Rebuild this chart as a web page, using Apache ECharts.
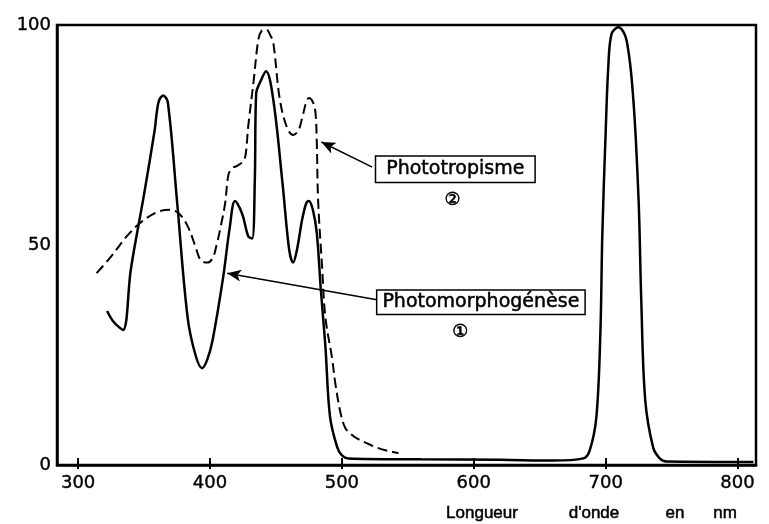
<!DOCTYPE html>
<html><head><meta charset="utf-8">
<script src="https://cdn.jsdelivr.net/npm/echarts@6/dist/echarts.min.js"></script>
<style>html,body{margin:0;padding:0;background:#fff}#c{width:769px;height:524px}</style>
</head><body><div id="c"></div>
<script>
const xTicks = [300, 400, 500, 600, 700, 800];

// Courbe 1 : Photomorphogénèse (trait plein)
const photomorphoNm = [322, 327, 334, 340, 350, 358, 361, 364.5, 368, 375, 383, 389, 394, 398, 402, 410, 415, 419, 424.5, 429, 432, 434, 435, 438, 442.5, 448, 455, 460, 463, 466, 470, 473, 475, 478, 481, 484, 487.5, 491, 496.5, 500, 505, 560, 620, 660, 683, 688, 693, 696, 697.5, 700, 702, 704.5, 709.7, 715.8, 721, 725, 727, 730, 736, 741, 746, 812];
const photomorphoVal = [35, 32.5, 30.7, 44.5, 61.5, 76, 82.5, 84, 82.5, 60, 33.6, 25, 22, 24, 28.4, 42.7, 54, 60, 57, 52, 51.5, 65, 84.5, 87, 89.5, 83, 64, 49, 46, 49, 56, 59.5, 60, 58, 52.7, 40, 27, 11, 4, 2.2, 1.5, 1.3, 1.2, 1.0, 1.5, 3.4, 11, 30, 52.7, 75.5, 90.5, 98, 99.5, 96.6, 83, 60, 37.5, 14.8, 4, 1.5, 0.8, 0.7];

// Courbe 2 : Phototropisme (tirets)
const phototropNm = [314, 324, 337, 347, 360, 370, 377, 383.5, 389, 393, 398, 402, 405, 408, 411.5, 414, 417, 420.6, 425, 427, 429, 433, 436.6, 439, 442.6, 446, 448, 453, 458.5, 463, 467, 470, 473, 475, 478, 480, 481, 482, 485, 487.5, 492.7, 495, 499, 502.6, 507, 511.7, 520, 527, 535, 543];
const phototropVal = [43.6, 47, 52, 55, 57.5, 58, 57, 54, 49.6, 46.5, 46, 47, 50, 54, 59.5, 66, 67.5, 68, 69, 70.5, 77, 87, 96.6, 98.6, 99, 97.5, 96, 83, 76.6, 75, 76, 79, 82.5, 83.4, 82.5, 80, 73, 60, 45, 33.6, 24, 18.6, 11.8, 8.4, 7, 6, 4.8, 3.9, 3.2, 2.7];

const boxLabels = ['Phototropisme', 'Photomorphogénèse'];
const boxLabelPos = [[586, 67.2], [605.4, 37]];
const numLabels = ['②', '①'];
const numLabelPos = [[584, 60.2], [589.8, 30.2]];
const arrowFrom = [[523, 67.7], [527.6, 37.5]];
const arrowTo = [[484.4, 73.4], [413, 43.6]];
const axisWords = ['Longueur', "d'onde", 'en', 'nm'];
const axisWordX = [482, 594, 675, 725];

const zip = (a, b) => a.map((v, i) => [v, b[i]]);
const FONT = "'DejaVu Sans', sans-serif";

const chart = echarts.init(document.getElementById('c'), null, {renderer: 'canvas'});

function boxPoint(i) {
  return {
    coord: boxLabelPos[i], symbol: 'rect', symbolSize: 1,
    itemStyle: {color: 'rgba(0,0,0,0)'},
    label: {show: true, position: 'inside', formatter: boxLabels[i], color: '#000',
      fontSize: 19, fontFamily: FONT, backgroundColor: '#fff', borderColor: '#000', borderWidth: 1.5,
      padding: i === 0 ? [3, 10, 3, 10] : [2, 5, 2, 5], textBorderColor: '#000', textBorderWidth: 0.5}
  };
}
function numPoint(i) {
  return {
    coord: numLabelPos[i], symbol: 'rect', symbolSize: 1,
    itemStyle: {color: 'rgba(0,0,0,0)'},
    label: {show: true, position: 'inside', formatter: numLabels[i], color: '#000', fontSize: 18, fontFamily: FONT,
      textBorderColor: '#000', textBorderWidth: 0.6}
  };
}

const option = {
  animation: false,
  backgroundColor: '#fff',
  grid: {left: 57, right: 13, top: 25, bottom: 59, show: true, borderColor: '#000', borderWidth: 2.5},
  xAxis: [{
    type: 'value', min: 284, max: 814, position: 'bottom',
    axisLine: {show: true, lineStyle: {color: '#000', width: 2.5}},
    axisTick: {show: true, inside: true, length: 7, customValues: xTicks, lineStyle: {color: '#000', width: 2}},
    axisLabel: {customValues: xTicks, margin: 9, fontSize: 18, color: '#000', fontFamily: FONT,
      textBorderColor: '#000', textBorderWidth: 0.4},
    splitLine: {show: false}
  }, {
    type: 'value', min: 284, max: 814, position: 'bottom',
    axisLine: {show: false},
    axisTick: {show: true, inside: false, length: 4, customValues: xTicks, lineStyle: {color: '#000', width: 2}},
    axisLabel: {show: false},
    splitLine: {show: false}
  }],
  yAxis: {
    type: 'value', min: 0, max: 100, interval: 50,
    axisLine: {show: true, lineStyle: {color: '#000', width: 2.5}},
    axisTick: {show: false},
    axisLabel: {fontSize: 18, color: '#000', margin: 6, fontFamily: FONT, padding: [0, 0, 12, 0],
      textBorderColor: '#000', textBorderWidth: 0.4},
    splitLine: {show: false}
  },
  series: [{
    name: 'Photomorphogénèse', type: 'line', xAxisIndex: 0,
    data: zip(photomorphoNm, photomorphoVal),
    showSymbol: false, smooth: 0.35,
    lineStyle: {color: '#000', width: 2.5}, itemStyle: {color: '#000'},
    markLine: {silent: true, symbol: ['none', 'arrow'], symbolSize: [9, 14],
      lineStyle: {color: '#000', width: 1.5, type: 'solid'}, label: {show: false},
      data: [[{coord: arrowFrom[1]}, {coord: arrowTo[1]}]]},
    markPoint: {silent: true, data: [boxPoint(1), numPoint(1)]}
  }, {
    name: 'Phototropisme', type: 'line', xAxisIndex: 0,
    data: zip(phototropNm, phototropVal),
    showSymbol: false, smooth: 0.35,
    lineStyle: {color: '#000', width: 2, type: [10, 5]}, itemStyle: {color: '#000'},
    markLine: {silent: true, symbol: ['none', 'arrow'], symbolSize: [9, 14],
      lineStyle: {color: '#000', width: 1.5, type: 'solid'}, label: {show: false},
      data: [[{coord: arrowFrom[0]}, {coord: arrowTo[0]}]]},
    markPoint: {silent: true, data: [boxPoint(0), numPoint(0)]}
  }],
  graphic: axisWords.map((w, i) => ({
    type: 'text', x: axisWordX[i], y: 513,
    style: {text: w, fill: '#000', font: "17px 'Liberation Sans Narrow', 'Liberation Sans', sans-serif",
      align: 'center', verticalAlign: 'middle', stroke: '#000', lineWidth: 0.5}
  }))
};
chart.setOption(option);
</script></body></html>
